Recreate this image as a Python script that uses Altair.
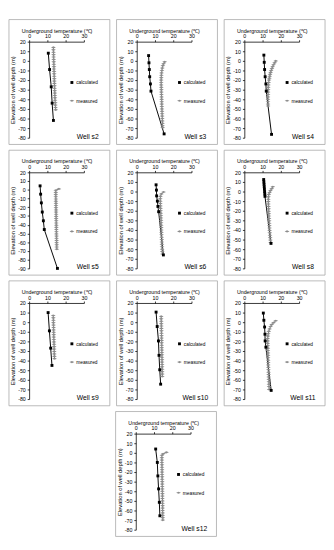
import altair as alt
import pandas as pd

FONT = "Liberation Sans"
SERIES = ["calculated", "measured"]
X_TICKS = [0, 10, 20, 30]

# ---------------- data ----------------
s2_calc_depth = [8, -9, -27, -44, -62]
s2_calc_temp = [10.5, 11.2, 12.1, 12.6, 13.3]
s2_meas_depth = [14, 11.5, 9, 6.5, 4, 1.5, -1, -3.5, -6, -8.5, -11, -13.5, -16, -18.5,
                 -21, -23.5, -26, -28.5, -31, -33.5, -36, -38.5, -41, -43.5, -46, -48.5, -51]
s2_meas_temp = [13.3, 13.3, 13.35, 13.4, 13.4, 13.45, 13.5, 13.55, 13.6, 13.6, 13.65, 13.7, 13.75, 13.8,
                13.8, 13.85, 13.9, 13.95, 14.0, 14.05, 14.1, 14.15, 14.2, 14.3, 14.35, 14.45, 14.55]

s3_calc_depth = [5.5, -2, -9, -16.5, -24, -31.5, -76]
s3_calc_temp = [6.5, 6.7, 6.9, 7.1, 7.5, 7.8, 15.0]
s3_meas_depth = [-1, -3, -5, -7.5, -10, -12.5, -15, -17.5, -20, -22.5, -25, -27.5, -30, -32.5, -35,
                 -37.5, -40, -42.5, -45, -47.5, -50, -52.5, -55, -57.5, -60, -62.5, -65, -67.5, -69.5]
s3_meas_temp = [15.3, 14.7, 14.3, 14.0, 13.8, 13.6, 13.5, 13.45, 13.4, 13.4, 13.4, 13.45, 13.5, 13.5, 13.55,
                13.6, 13.65, 13.7, 13.7, 13.75, 13.8, 13.85, 13.9, 13.95, 14.0, 14.05, 14.1, 14.15, 14.2]

s4_calc_depth = [6, -1.5, -9, -16.5, -24, -31.5, -76.5]
s4_calc_temp = [10.7, 10.9, 11.1, 11.4, 11.8, 12.0, 14.9]
s4_meas_depth = [0, -2, -4, -6, -8, -10, -12, -14, -16, -18, -20, -22.5, -25, -27.5, -30, -32.5,
                 -35, -37.5, -40, -42.5, -45, -47]
s4_meas_temp = [17.2, 16.6, 16.0, 15.5, 15.1, 14.7, 14.4, 14.1, 13.9, 13.7, 13.5, 13.35, 13.2, 13.1, 13.05, 13.0,
                13.0, 12.95, 12.95, 12.95, 12.95, 13.0]

s5_calc_depth = [4.5, -5, -15, -25.5, -35.5, -45.5, -90]
s5_calc_temp = [6.0, 6.3, 6.7, 7.2, 7.8, 8.3, 15.5]
s5_meas_depth = [1, -0.5, -3, -5.5, -8, -10.5, -13, -15.5, -18, -20.5, -23, -25.5, -28, -30.5, -33,
                 -35.5, -38, -40.5, -43, -45.5, -48, -50.5, -53, -55.5, -58, -60.5, -63, -65.5, -68]
s5_meas_temp = [16.3, 14.6, 14.6, 14.6, 14.6, 14.65, 14.65, 14.7, 14.7, 14.7, 14.75, 14.75, 14.8, 14.8, 14.8,
                14.85, 14.85, 14.9, 14.9, 14.9, 14.95, 14.95, 15.0, 15.0, 15.05, 15.05, 15.1, 15.1, 15.15]

s6_calc_depth = [7, 1.5, -4.5, -10, -15.5, -21, -66]
s6_calc_temp = [10.6, 10.8, 10.9, 11.3, 11.6, 12.0, 14.6]
s6_meas_depth = [-0.5, -2.5, -5, -7.5, -10, -12.5, -15, -17.5, -20, -22.5, -25, -27.5, -30, -32.5,
                 -35, -37.5, -40, -42.5, -45, -47.5, -50, -52.5, -55, -57.5, -60, -62.5, -65]
s6_meas_temp = [14.7, 13.5, 13.0, 12.9, 12.9, 12.95, 13.0, 13.05, 13.1, 13.15, 13.2, 13.25, 13.3, 13.35,
                13.4, 13.45, 13.5, 13.55, 13.6, 13.65, 13.7, 13.75, 13.8, 13.85, 13.9, 14.0, 14.1]

s8_calc_depth = [12.5, 10, 7.5, 5, 2.5, 0, -2.5, -5, -54]
s8_calc_temp = [10.6, 10.7, 10.8, 10.9, 11.0, 11.1, 11.2, 11.3, 14.6]
s8_meas_depth = [5, 3, 1, -1, -3, -5.5, -8, -10.5, -13, -15.5, -18, -20.5, -23, -25.5, -28, -30.5,
                 -33, -35.5, -38, -40.5, -43, -45.5, -48, -50.5, -53]
s8_meas_temp = [15.6, 15.0, 14.3, 13.8, 13.4, 13.2, 13.15, 13.15, 13.2, 13.25, 13.3, 13.35, 13.4, 13.45, 13.5, 13.6,
                13.65, 13.7, 13.8, 13.85, 13.95, 14.05, 14.15, 14.25, 14.4]

s9_calc_depth = [10, -9, -27, -45]
s9_calc_temp = [10.4, 11.1, 11.8, 12.5]
s9_meas_depth = [7, 4.5, 2, -0.5, -3, -5.5, -8, -10.5, -13, -15.5, -18, -20.5, -23, -25.5, -28,
                 -30.5, -33, -35.5, -38]
s9_meas_temp = [13.2, 13.25, 13.3, 13.3, 13.35, 13.4, 13.4, 13.45, 13.5, 13.5, 13.55, 13.6, 13.65, 13.7, 13.7,
                13.75, 13.8, 13.85, 13.9]

s10_calc_depth = [10.5, -4.5, -19.5, -34.5, -49.5, -64.5]
s10_calc_temp = [10.6, 11.2, 11.9, 12.2, 12.6, 13.1]
s10_meas_depth = [6, 3.5, 1, -1.5, -4, -6.5, -9, -11.5, -14, -16.5, -19, -21.5, -24, -26.5, -29,
                  -31.5, -34, -36.5, -39, -41.5, -44, -46.5, -49, -51.5, -54, -56.5]
s10_meas_temp = [13.4, 13.4, 13.45, 13.45, 13.5, 13.5, 13.55, 13.55, 13.6, 13.6, 13.65, 13.65, 13.7, 13.7, 13.75,
                 13.75, 13.8, 13.8, 13.85, 13.85, 13.9, 13.9, 13.95, 13.95, 14.0, 14.0]

s11_calc_depth = [9.5, 2, -5, -12.5, -19.5, -26, -71]
s11_calc_temp = [10.4, 10.7, 11.1, 11.3, 11.4, 11.8, 14.7]
s11_meas_depth = [1.5, -0.5, -2.5, -4.5, -7, -9.5, -12, -14.5, -17, -19.5, -22, -24.5, -27, -29.5, -32,
                  -34.5, -37, -39.5, -42, -44.5, -47, -49.5, -52, -54.5, -57, -59.5, -62, -64.5, -67, -70]
s11_meas_temp = [17.2, 16.0, 15.0, 14.4, 13.8, 13.4, 13.1, 12.9, 12.8, 12.8, 12.8, 12.85, 12.9, 12.9, 12.95,
                 13.0, 13.0, 13.05, 13.1, 13.1, 13.15, 13.2, 13.25, 13.3, 13.35, 13.4, 13.45, 13.5, 13.55, 13.6]

s12_calc_depth = [4, -10, -24, -37.5, -51.5, -65.5]
s12_calc_temp = [10.9, 11.8, 12.1, 12.5, 12.9, 13.2]
s12_meas_depth = [0.5, -1, -2.5, -5, -7.5, -10, -12.5, -15, -17.5, -20, -22.5, -25, -27.5, -30, -32.5,
                  -35, -37.5, -40, -42.5, -45, -47.5, -50, -52.5, -55, -57.5, -60, -62.5, -65, -67.5, -70]
s12_meas_temp = [16.8, 15.0, 14.3, 14.3, 14.3, 14.3, 14.35, 14.35, 14.4, 14.4, 14.4, 14.45, 14.45, 14.5, 14.5,
                 14.5, 14.55, 14.55, 14.6, 14.6, 14.6, 14.65, 14.65, 14.7, 14.7, 14.7, 14.75, 14.75, 14.8, 14.8]

WELLS = [
    ("Well s2", s2_calc_depth, s2_calc_temp, s2_meas_depth, s2_meas_temp, -80),
    ("Well s3", s3_calc_depth, s3_calc_temp, s3_meas_depth, s3_meas_temp, -80),
    ("Well s4", s4_calc_depth, s4_calc_temp, s4_meas_depth, s4_meas_temp, -80),
    ("Well s5", s5_calc_depth, s5_calc_temp, s5_meas_depth, s5_meas_temp, -90),
    ("Well s6", s6_calc_depth, s6_calc_temp, s6_meas_depth, s6_meas_temp, -80),
    ("Well s8", s8_calc_depth, s8_calc_temp, s8_meas_depth, s8_meas_temp, -80),
    ("Well s9", s9_calc_depth, s9_calc_temp, s9_meas_depth, s9_meas_temp, -80),
    ("Well s10", s10_calc_depth, s10_calc_temp, s10_meas_depth, s10_meas_temp, -80),
    ("Well s11", s11_calc_depth, s11_calc_temp, s11_meas_depth, s11_meas_temp, -80),
    ("Well s12", s12_calc_depth, s12_calc_temp, s12_meas_depth, s12_meas_temp, -80),
]

# ---------------- styling ----------------
PW, PH = 57, 100
FL, FR, FT, FB = -21, 84, -23, 107   # frame edges relative to the plot area
DIA = "M-1,0L0,-0.45L1,0L0,0.45Z"
LEG_CALC = "M-1,-0.09H1V0.09H-1Z M-0.25,-0.25H0.25V0.25H-0.25Z"
LEG_MEAS = "M-1,-0.09H1V0.09H-1Z M-0.32,0L0,-0.22L0.32,0L0,0.22Z"


def frame(opacity=1.0):
    return alt.Chart(pd.DataFrame({"f": [0]})).mark_rect(
        fill="transparent", stroke="#a6a6a6", strokeWidth=0.8, strokeOpacity=opacity
    ).encode(x=alt.value(FL), x2=alt.value(FR), y=alt.value(FT), y2=alt.value(FB))


def panel(name, cd, ct, md, mt, ymin):
    df = pd.DataFrame({
        "series": ["measured"] * len(md) + ["calculated"] * len(cd),
        "depth": md + cd,
        "temp": mt + ct,
        "idx": list(range(len(md))) + list(range(len(cd))),
    })
    x = alt.X("temp:Q", scale=alt.Scale(domain=[0, 30], nice=False, zero=False),
              axis=alt.Axis(orient="top", values=X_TICKS, title="Underground temperature (℃)",
                            grid=False, labelFlush=False, titlePadding=1,
                            labelColor="#000000", titleColor="#000000"))
    y = alt.Y("depth:Q", scale=alt.Scale(domain=[ymin, 20], nice=False, zero=False),
              axis=alt.Axis(values=list(range(ymin, 21, 10)), title="Elevation of well depth (m)",
                            grid=False, labelExpr="'' + datum.value", labelPadding=2,
                            titleFontSize=6, titlePadding=2,
                            labelColor="#000000", titleColor="#000000"))
    base = alt.Chart(df)
    line_m = base.transform_filter(alt.datum.series == "measured").mark_line(
        color="#808080", strokeWidth=1).encode(x=x, y=y, order="idx:Q")
    line_c = base.transform_filter(alt.datum.series == "calculated").mark_line(
        color="#000000", strokeWidth=1).encode(x=x, y=y, order="idx:Q")
    pts = base.mark_point(filled=True, opacity=1).encode(
        x=x, y=y,
        color=alt.Color("series:N", scale=alt.Scale(domain=SERIES, range=["#000000", "#8c8c8c"]),
                        legend=alt.Legend(
                            title=None, orient="none", legendX=42, legendY=40, padding=0,
                            rowPadding=13, labelOffset=2, symbolSize=121,
                            symbolType={"expr": "datum.value === 'calculated' ? '%s' : '%s'" % (LEG_CALC, LEG_MEAS)},
                            symbolStrokeWidth=0, symbolOpacity=1, labelFontSize=5, labelFont=FONT,
                            labelColor="#000000")),
        shape=alt.Shape("series:N", scale=alt.Scale(domain=SERIES, range=["square", DIA]), legend=None),
        size=alt.Size("series:N", scale=alt.Scale(domain=SERIES, range=[9, 25]), legend=None),
    )
    txt = alt.Chart(pd.DataFrame({"label": [name]})).mark_text(
        font=FONT, fontSize=7, align="center", baseline="middle", color="#000000"
    ).encode(text="label:N", x=alt.value(61), y=alt.value(99))
    return alt.layer(frame(), line_m, line_c, pts, txt).properties(width=PW, height=PH)


def spacer():
    return alt.layer(frame(0.0)).properties(width=PW, height=PH)


def row(*charts):
    return alt.hconcat(*charts, spacing=5).resolve_scale(
        color="independent", shape="independent", size="independent"
    ).resolve_legend(color="independent")


panels = [panel(*w) for w in WELLS]
chart = alt.vconcat(
    row(panels[0], panels[1], panels[2]),
    row(panels[3], panels[4], panels[5]),
    row(panels[6], panels[7], panels[8]),
    row(spacer(), panels[9]),
    spacing=4,
).resolve_scale(
    color="independent", shape="independent", size="independent"
).resolve_legend(color="independent").properties(
    padding=0, background="white"
).configure_view(stroke=None).configure_axis(
    domainColor="black", domainWidth=0.8, tickColor="black", tickWidth=0.8, tickSize=2,
    labelFont=FONT, labelFontSize=5.5, labelColor="black", labelPadding=1,
    titleFont=FONT, titleFontSize=5.5, titleFontWeight="normal", titleColor="black",
)

chart.save("out.html", embed_options={"renderer": "svg", "actions": False})
